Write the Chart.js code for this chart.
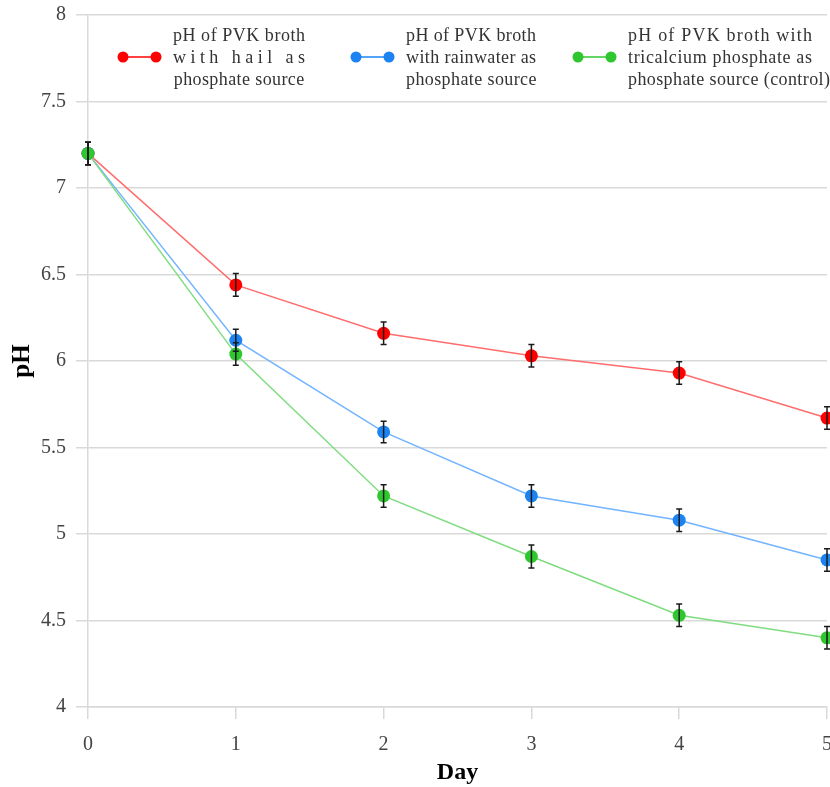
<!DOCTYPE html>
<html>
<head>
<meta charset="utf-8">
<script src="https://cdn.jsdelivr.net/npm/chart.js@4"></script>
<style>
  html, body { margin: 0; padding: 0; background: #fff; overflow: hidden; }
  #wrap { position: relative; width: 840px; height: 787px; }
</style>
</head>
<body>
<div id="wrap"><canvas id="phChart" width="840" height="787"></canvas></div>
<script>
// values
const days = ['0', '1', '2', '3', '4', '5'];
const yTicks = [4, 4.5, 5, 5.5, 6, 6.5, 7, 7.5, 8];

const phHail = [7.2, 6.44, 6.16, 6.03, 5.93, 5.67];
const phRain = [7.2, 6.12, 5.59, 5.22, 5.08, 4.85];
const phControl = [7.2, 6.04, 5.22, 4.87, 4.53, 4.40];

const errHail = [0.065, 0.066, 0.065, 0.065, 0.065, 0.065];
const errRain = [0.065, 0.063, 0.062, 0.065, 0.065, 0.065];
const errControl = [0.065, 0.065, 0.065, 0.066, 0.065, 0.065];

const labelHail = ['pH of PVK broth', 'with hail as', 'phosphate source'];
const labelRain = ['pH of PVK broth', 'with rainwater as', 'phosphate source'];
const labelControl = ['pH of PVK broth with', 'tricalcium phosphate as', 'phosphate source (control)'];

const SERIF = '"Liberation Serif", "DejaVu Serif", serif';

// black error bars drawn over the points
const errorBars = {
  id: 'errorBars',
  afterDatasetsDraw(chart) {
    const ctx = chart.ctx;
    const y = chart.scales.y;
    ctx.save();
    ctx.strokeStyle = '#1a1a1a';
    ctx.lineWidth = 1.5;
    chart.data.datasets.forEach((ds, i) => {
      chart.getDatasetMeta(i).data.forEach((pt, j) => {
        const v = ds.data[j], e = ds.errors[j];
        const top = y.getPixelForValue(v + e), bot = y.getPixelForValue(v - e);
        ctx.beginPath();
        ctx.moveTo(pt.x, top); ctx.lineTo(pt.x, bot);
        ctx.moveTo(pt.x - 3, top); ctx.lineTo(pt.x + 3, top);
        ctx.moveTo(pt.x - 3, bot); ctx.lineTo(pt.x + 3, bot);
        ctx.stroke();
      });
    });
    ctx.restore();
  }
};

// three-line legend inside the plot, lines justified like the original
function drawSpaced(ctx, text, x, y, spacing) {
  let cx = x;
  for (const ch of text) {
    ctx.fillText(ch, cx, y);
    cx += ctx.measureText(ch).width + spacing;
  }
}

const boxLegend = {
  id: 'boxLegend',
  afterDraw(chart) {
    const ctx = chart.ctx;
    const textLeft = [173, 406, 628];
    const blockW = [132, 130, 184];
    const lineY = [36, 58, 80];
    ctx.save();
    ctx.font = '18px ' + SERIF;
    ctx.textBaseline = 'middle';
    ctx.textAlign = 'left';
    chart.data.datasets.forEach((ds, i) => {
      const left = textLeft[i];
      // marker
      ctx.strokeStyle = ds.pointBackgroundColor;
      ctx.fillStyle = ds.pointBackgroundColor;
      ctx.lineWidth = 1.5;
      ctx.beginPath();
      ctx.moveTo(left - 50, 57); ctx.lineTo(left - 17, 57);
      ctx.stroke();
      [left - 50, left - 17].forEach(px => {
        ctx.beginPath(); ctx.arc(px, 57, 5.5, 0, Math.PI * 2); ctx.fill();
      });
      // text
      ctx.fillStyle = '#333';
      ds.legendLines.forEach((line, k) => {
        const natural = ctx.measureText(line).width;
        if (k < ds.legendLines.length - 1) {
          const sp = Math.max(0, (blockW[i] - natural) / (line.length - 1));
          drawSpaced(ctx, line, left, lineY[k], sp);
        } else {
          const w = natural + 0.4 * (line.length - 1);
          const dx = Math.max(0, (blockW[i] - w) / 2);
          drawSpaced(ctx, line, left + dx, lineY[k], 0.4);
        }
      });
    });
    ctx.restore();
  }
};

function series(data, errors, lines, point, line, order) {
  return {
    data, errors, legendLines: lines,
    borderColor: line, backgroundColor: point,
    pointBackgroundColor: point, pointBorderWidth: 0,
    pointRadius: 6.5, borderWidth: 1.5, tension: 0,
    clip: false, order
  };
}

new Chart(document.getElementById('phChart'), {
  type: 'line',
  data: {
    labels: days,
    datasets: [
      series(phHail, errHail, labelHail, '#ff0000', '#ff6d6d', 2),
      series(phRain, errRain, labelRain, '#1b84f2', '#72b4ff', 1),
      series(phControl, errControl, labelControl, '#2fc72f', '#7fdc7f', 0)
    ]
  },
  options: {
    responsive: false,
    devicePixelRatio: 1,
    animation: false,
    layout: { autoPadding: false, padding: { left: 8, right: 13, top: 15, bottom: 0 } },
    plugins: { legend: { display: false }, tooltip: { enabled: false } },
    scales: {
      x: {
        type: 'category',
        offset: false,
        afterFit: (s) => { s.height = 80; s.paddingLeft = 0; s.paddingRight = 0; },
        grid: { drawOnChartArea: false, drawTicks: true, tickLength: 12, color: '#d9d9d9', lineWidth: 1.5 },
        border: { display: true, color: '#d9d9d9', width: 1.5 },
        ticks: { font: { family: SERIF, size: 20 }, color: '#444', padding: 14, maxRotation: 0 },
        title: { display: true, text: 'Day', color: '#000', font: { family: SERIF, size: 24, weight: 'bold' }, padding: { top: 0, bottom: 0 } }
      },
      y: {
        min: 4, max: 8,
        afterBuildTicks: (s) => { s.ticks = yTicks.map((v) => ({ value: v })); },
        afterFit: (s) => { s.width = 80; s.paddingTop = 0; s.paddingBottom = 0; },
        grid: { color: '#d9d9d9', lineWidth: 1.5, tickLength: 12 },
        border: { display: true, color: '#d9d9d9', width: 1.5 },
        ticks: { font: { family: SERIF, size: 20 }, color: '#444', padding: 10, callback: (v) => String(v) },
        title: { display: true, text: 'pH', color: '#000', font: { family: SERIF, size: 25, weight: 'bold' }, padding: { top: 0, bottom: 3 } }
      }
    }
  },
  plugins: [errorBars, boxLegend]
});
</script>
</body>
</html>
